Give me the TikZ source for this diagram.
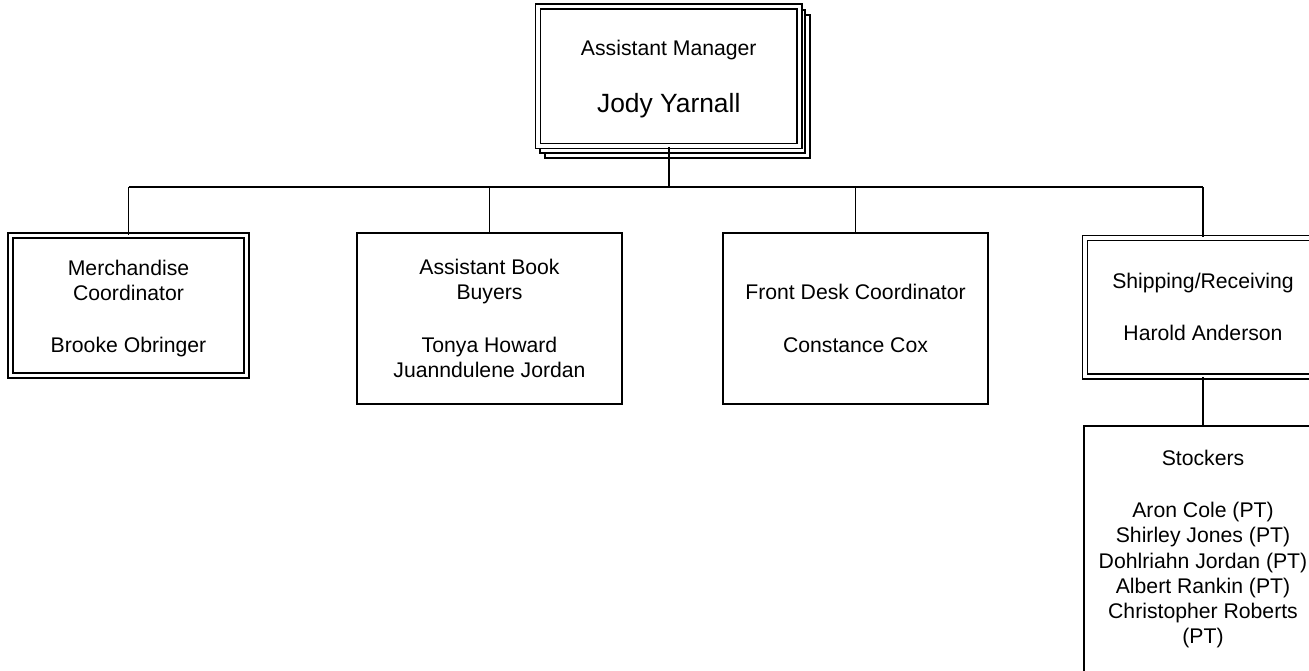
\documentclass[tikz,border=0pt]{standalone}
\usepackage{fontspec}
\setmainfont{Liberation Sans}
\newcommand\bodyfont{\fontsize{21.2}{25.2}\selectfont}
\newcommand\namefont{\fontsize{26.4}{30}\selectfont}
\newcommand\topstrut[1]{\rule{0pt}{#1}}
\begin{document}
\begin{tikzpicture}[x=1pt,y=-1pt]
\tikzset{
  frame/.style={draw, line width=1.7pt, fill=white, align=center, font=\bodyfont, inner sep=0pt},
  dframe/.style={frame, line width=1.8pt, double, double distance=3.1pt},
  link/.style={draw, line width=1.8pt},
  shadowpage/.style={draw, line width=1.6pt, fill=white},
}
\useasboundingbox (0,0) rectangle (1309,670);
\clip (0,0) rectangle (1309,670);
\fill[white] (0,0) rectangle (1309,670);
% stacked pages behind the top box
\draw[shadowpage] (545,15) rectangle (810,158);
\draw[shadowpage] (540,10) rectangle (805,153);
\node[dframe, minimum width=261.5pt, minimum height=139.5pt] (mgr) at (668.75,76.25)
  {\topstrut{21.5pt}Assistant Manager\\[32pt]{\namefont Jody Yarnall}};
\coordinate (bus) at (669,187);
\node[dframe, minimum width=235.5pt, minimum height=140pt] (merch) at (128.5,305.5)
  {\topstrut{21pt}Merchandise\\Coordinator\\[27pt]Brooke Obringer};
\node[frame, minimum width=265pt, minimum height=171pt] (buyers) at (489.5,318.5)
  {Assistant Book\\Buyers\\[27pt]Tonya Howard\\Juanndulene Jordan};
\node[frame, minimum width=265pt, minimum height=171pt] (desk) at (855.5,318.5)
  {Front Desk Coordinator\\[27pt]Constance Cox};
\node[dframe, minimum width=236pt, minimum height=138.5pt] (ship) at (1203,307.25)
  {Shipping/Receiving\\[27pt]Harold Anderson};
\node[frame, minimum width=238pt, minimum height=290pt, anchor=north] (stock) at (1203,425) {};
\node[anchor=north, align=center, font=\bodyfont, inner sep=0pt] (stocktext) at ([yshift=-25pt]stock.north)
  {Stockers\\[27pt]Aron Cole (PT)\\Shirley Jones (PT)\\Dohlriahn Jordan (PT)\\Albert Rankin (PT)\\Christopher Roberts\\(PT)};
% connectors
\draw[link] (mgr.south) -- (mgr.south |- bus);
\draw[link] (merch.north |- bus) -- (ship.north |- bus);
\draw[link] (merch.north |- bus) -- (merch.north);
\draw[link] (buyers.north |- bus) -- (buyers.north);
\draw[link] (desk.north |- bus) -- (desk.north);
\draw[link] (ship.north |- bus) -- (ship.north);
\draw[link] (ship.south) -- (stock.north);
\end{tikzpicture}
\end{document}
